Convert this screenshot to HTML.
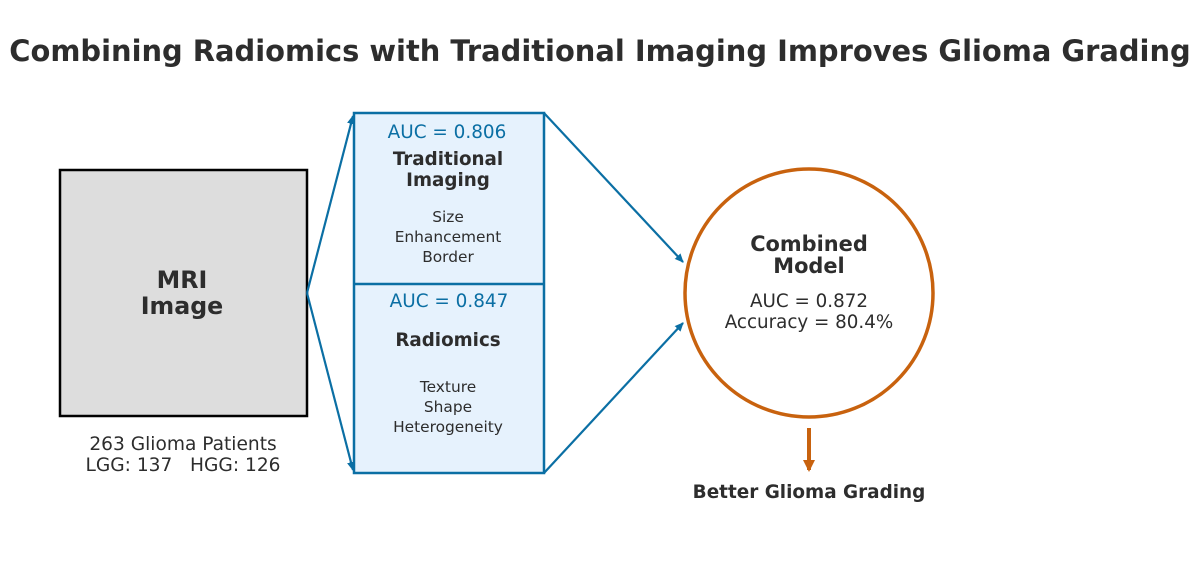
<!DOCTYPE html>
<html><head><meta charset="utf-8"><style>
html,body{margin:0;padding:0;background:#fff;}
svg{display:block;font-family:"DejaVu Sans","Liberation Sans",sans-serif;}
</style></head><body>
<svg width="1200" height="587" viewBox="0 0 1200 587" xmlns="http://www.w3.org/2000/svg">
<defs>
<marker id="ab" markerWidth="10" markerHeight="10" refX="8" refY="5" orient="auto" markerUnits="userSpaceOnUse">
<path d="M0,1 L9,5 L0,9 Z" fill="#0b6fa4"/></marker>
<marker id="ao" markerWidth="14" markerHeight="14" refX="10" refY="7" orient="auto" markerUnits="userSpaceOnUse">
<path d="M0,1 L12,7 L0,13 Z" fill="#c8620e"/></marker>
</defs>
<text x="600" y="61" text-anchor="middle" font-size="28.9" font-weight="bold" fill="#2d2d2d">Combining Radiomics with Traditional Imaging Improves Glioma Grading</text>

<rect x="60" y="170" width="247" height="246" fill="#dddddd" stroke="#000" stroke-width="2.5"/>
<text x="182" y="288" text-anchor="middle" font-size="23.7" font-weight="bold" fill="#2d2d2d">MRI</text>
<text x="182" y="314" text-anchor="middle" font-size="23.7" font-weight="bold" fill="#2d2d2d">Image</text>
<text x="183" y="450" text-anchor="middle" font-size="18.6" fill="#2d2d2d">263 Glioma Patients</text>
<text x="183" y="471" text-anchor="middle" font-size="18.6" fill="#2d2d2d">LGG: 137&#160;&#160;&#160;HGG: 126</text>

<rect x="354" y="113" width="190" height="360" fill="#e6f2fd" stroke="#0b6fa4" stroke-width="2.5"/>
<line x1="354" y1="284" x2="544" y2="284" stroke="#0b6fa4" stroke-width="2.5"/>
<text x="447" y="138" text-anchor="middle" font-size="18.4" fill="#0b6fa4">AUC = 0.806</text>
<text x="448" y="165" text-anchor="middle" font-size="18.3" font-weight="bold" fill="#2d2d2d">Traditional</text>
<text x="448" y="186" text-anchor="middle" font-size="18.3" font-weight="bold" fill="#2d2d2d">Imaging</text>
<text x="448" y="222" text-anchor="middle" font-size="15.4" fill="#2d2d2d">Size</text>
<text x="448" y="242" text-anchor="middle" font-size="15.4" fill="#2d2d2d">Enhancement</text>
<text x="448" y="262" text-anchor="middle" font-size="15.4" fill="#2d2d2d">Border</text>
<text x="449" y="307" text-anchor="middle" font-size="18.4" fill="#0b6fa4">AUC = 0.847</text>
<text x="448" y="346" text-anchor="middle" font-size="18.3" font-weight="bold" fill="#2d2d2d">Radiomics</text>
<text x="448" y="392" text-anchor="middle" font-size="15.4" fill="#2d2d2d">Texture</text>
<text x="448" y="412" text-anchor="middle" font-size="15.4" fill="#2d2d2d">Shape</text>
<text x="448" y="432" text-anchor="middle" font-size="15.4" fill="#2d2d2d">Heterogeneity</text>

<g stroke="#0b6fa4" stroke-width="2.2" fill="none">
<line x1="307" y1="293" x2="353" y2="116" marker-end="url(#ab)"/>
<line x1="307" y1="293" x2="353" y2="470" marker-end="url(#ab)"/>
<line x1="544" y1="113" x2="683" y2="262" marker-end="url(#ab)"/>
<line x1="544" y1="473" x2="683" y2="323" marker-end="url(#ab)"/>
</g>

<circle cx="809" cy="293" r="124" fill="#fff" stroke="#c8620e" stroke-width="3.5"/>
<text x="809" y="251" text-anchor="middle" font-size="20.9" font-weight="bold" fill="#2d2d2d">Combined</text>
<text x="809" y="273" text-anchor="middle" font-size="20.9" font-weight="bold" fill="#2d2d2d">Model</text>
<text x="809" y="307" text-anchor="middle" font-size="18.3" fill="#2d2d2d">AUC = 0.872</text>
<text x="809" y="328" text-anchor="middle" font-size="18.3" fill="#2d2d2d">Accuracy = 80.4%</text>

<line x1="809" y1="428" x2="809" y2="470" stroke="#c8620e" stroke-width="4" marker-end="url(#ao)"/>
<text x="809" y="498" text-anchor="middle" font-size="18.4" font-weight="bold" fill="#2d2d2d">Better Glioma Grading</text>
</svg>
</body></html>
